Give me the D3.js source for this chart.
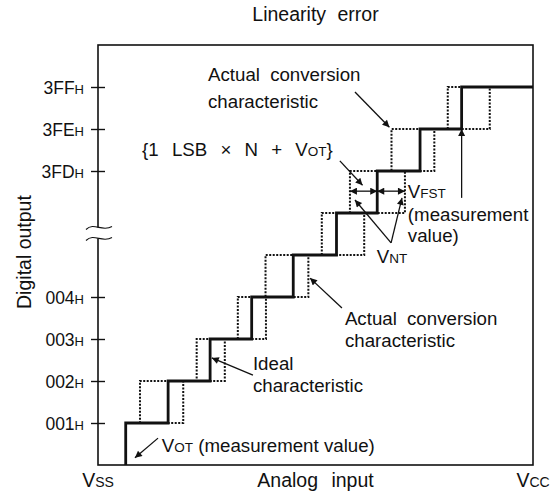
<!DOCTYPE html>
<html>
<head>
<meta charset="utf-8">
<script src="https://cdn.jsdelivr.net/npm/d3@7"></script>
<style>
  body { margin: 0; background: #fff; }
  svg { font-family: "Liberation Sans", Arial, sans-serif; }
  text { white-space: pre; fill: #111; }
</style>
</head>
<body>
<svg id="chart" width="551" height="493"></svg>
<script>
// Linearity error -- code transitions, in LSB from Vss

// transition points for codes 1..9 (continuous past the axis break)
var idealSteps  = [0.66, 1.67, 2.67, 3.66, 4.65, 5.68, 6.65, 7.67, 8.66];
var actualLow   = [0.66, 1.00, 2.35, 3.33, 3.99, 5.33, 6.00, 6.99, 8.33];
var actualHigh  = [0.66, 2.03, 3.02, 4.00, 5.01, 6.34, 7.31, 8.01, 9.33];

var codeLevels = [1, 2, 3, 4, 7, 8, 9];
var codeLabels = ["001", "002", "003", "004", "3FD", "3FE", "3FF"];

var xMax = 10.36, yMax = 10;

var margin = {top: 45, right: 18, bottom: 28, left: 98};
var width = 551 - margin.left - margin.right;
var height = 493 - margin.top - margin.bottom;

var svg = d3.select("#chart");

var x = d3.scaleLinear().domain([0, xMax]).range([margin.left, margin.left + width]);
var y = d3.scaleLinear().domain([0, yMax]).range([margin.top + height, margin.top]);

// arrow head
svg.append("defs").append("marker")
  .attr("id", "head")
  .attr("viewBox", "0 0 10 10")
  .attr("refX", 10).attr("refY", 5)
  .attr("markerWidth", 9).attr("markerHeight", 7)
  .attr("markerUnits", "userSpaceOnUse")
  .attr("orient", "auto-start-reverse")
  .append("path").attr("d", "M0,0 L10,5 L0,10 z").attr("fill", "#111");

///////////////////////////////////////////////////////////////////////////////
// frame and axis

svg.append("rect")
  .attr("x", x(0)).attr("y", y(yMax))
  .attr("width", x(xMax) - x(0)).attr("height", y(0) - y(yMax))
  .attr("fill", "none").attr("stroke", "#111").attr("stroke-width", 1.6);

var yAxis = svg.append("g")
  .attr("transform", "translate(" + x(0) + ",0)")
  .call(d3.axisLeft(y).tickValues(codeLevels).tickSize(7).tickFormat(""));
yAxis.select(".domain").remove();
yAxis.selectAll(".tick line").attr("x1", 7).attr("stroke", "#111").attr("stroke-width", 1.4);

yAxis.selectAll(".tick").append("text")
  .attr("x", -14).attr("dy", 6)
  .attr("text-anchor", "end")
  .attr("fill", "#111")
  .style("font-size", "17.5px")
  .each(function (d) {
    var t = d3.select(this);
    t.append("tspan").text(codeLabels[codeLevels.indexOf(d)]);
    t.append("tspan").style("font-size", "13px").text("H");
  });

// axis break
var breakY = y(5.5) - 1;
var wave = function (dy) {
  var x0 = x(0);
  return "M" + (x0 - 12) + "," + (breakY + dy + 2) +
    " C" + (x0 - 4) + "," + (breakY + dy - 6) + " " +
    (x0 + 4) + "," + (breakY + dy + 5) + " " +
    (x0 + 14) + "," + (breakY + dy - 1);
};
svg.append("rect")
  .attr("x", x(0) - 4).attr("y", breakY - 5.5)
  .attr("width", 8).attr("height", 11).attr("fill", "#fff");
svg.append("path").attr("d", wave(-5.5)).attr("fill", "none").attr("stroke", "#111").attr("stroke-width", 1.1);
svg.append("path").attr("d", wave(5.5)).attr("fill", "none").attr("stroke", "#111").attr("stroke-width", 1.1);

///////////////////////////////////////////////////////////////////////////////
// staircases

var stairs = function (steps, fromZero) {
  var pts = fromZero ? [[steps[0], 0]] : [];
  steps.forEach(function (s, i) { pts.push([s, i + 1]); });
  pts.push([xMax, steps.length]);
  return pts;
};

var line = d3.line()
  .x(function (d) { return x(d[0]); })
  .y(function (d) { return y(d[1]); })
  .curve(d3.curveStepAfter);

[actualLow, actualHigh].forEach(function (steps) {
  svg.append("path")
    .attr("d", line(stairs(steps, false)))
    .attr("fill", "none")
    .attr("stroke", "#111")
    .attr("stroke-width", 2)
    .attr("stroke-dasharray", "2,1.5");
});

svg.append("path")
  .attr("d", line(stairs(idealSteps, true)))
  .attr("fill", "none")
  .attr("stroke", "#111")
  .attr("stroke-width", 2.8);

///////////////////////////////////////////////////////////////////////////////
// annotations

var arrow = function (u1, v1, u2, v2, both) {
  var l = svg.append("line")
    .attr("x1", x(u1)).attr("y1", y(v1))
    .attr("x2", x(u2)).attr("y2", y(v2))
    .attr("stroke", "#111").attr("stroke-width", 1.3)
    .attr("marker-end", "url(#head)");
  if (both) l.attr("marker-start", "url(#head)");
};

var FONT = 18.7, SUB = 13.5;

var label = function (u, v, parts, anchor, size, wordGap) {
  var t = svg.append("text")
    .attr("x", typeof u === "number" ? x(u) : u.px)
    .attr("y", typeof v === "number" ? y(v) : v.px)
    .attr("text-anchor", anchor || "start")
    .style("font-size", (size || FONT) + "px")
    .style("word-spacing", (wordGap || 0) + "px");
  parts.forEach(function (p) {
    var s = t.append("tspan").text(p[0]);
    if (p[1]) s.style("font-size", p[1] + "px");
  });
  return t;
};

// title and axis titles
label(xMax / 2, {px: 21}, [["Linearity error"]], "middle", 19.5, 6);
label(xMax / 2, {px: 487}, [["Analog input"]], "middle", 19.5, 8);
label(0, {px: 487}, [["V"], ["SS", 14]], "middle", 19.5);
label(xMax, {px: 487}, [["V"], ["CC", 14]], "middle", 19.5);

svg.append("text")
  .attr("transform", "translate(31," + y(5.07) + ") rotate(-90)")
  .attr("text-anchor", "middle")
  .style("font-size", "19.5px")
  .text("Digital output");

// upper actual characteristic
label(2.62, 9.14, [["Actual conversion"]], "start", FONT, 5);
label(2.62, 8.5, [["characteristic"]]);
arrow(6.12, 8.88, actualLow[7] - 0.05, 8.04);

// {1 LSB x N + VOT}
label(1.05, 7.36, [["{1 LSB \u00d7 N + V"], ["OT", SUB], ["}"]], "start", FONT, 8);
arrow(5.76, 7.24, 6.3, 6.66);

// widths of code N
var vArrow = 6.52;
arrow(actualLow[6], vArrow, idealSteps[6], vArrow, true);
arrow(idealSteps[6], vArrow, actualHigh[6], vArrow, true);

label(7.38, 6.36, [["V"], ["FST", SUB]]);
label(7.38, 5.82, [["(measurement"]]);
label(7.38, 5.31, [["value)"]]);
arrow(idealSteps[8], 6.36, idealSteps[8], 8);

label(6.64, 4.81, [["V"], ["NT", SUB]]);
arrow(6.98, 5.29, 6.12, 6.31);
arrow(6.98, 5.29, 7.24, 6.36);

// lower actual characteristic
label(5.88, 3.33, [["Actual conversion"]], "start", FONT, 5);
label(5.88, 2.81, [["characteristic"]]);
arrow(5.81, 3.74, actualHigh[4] + 0.04, 4.45);

// ideal
label(3.69, 2.26, [["Ideal"]]);
label(3.69, 1.74, [["characteristic"]]);
arrow(3.69, 2.14, idealSteps[2] + 0.04, 2.55);

// offset transition
label(1.52, 0.31, [["V"], ["OT", SUB], [" (measurement value)"]]);
arrow(1.43, 0.64, idealSteps[0] + 0.22, 0.17);
</script>
</body>
</html>
